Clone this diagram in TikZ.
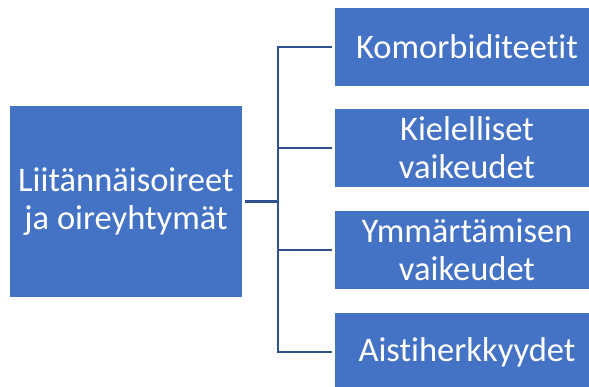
\documentclass[tikz,border=0pt]{standalone}
\usepackage{fontspec}
\setmainfont{Carlito}[Ligatures={NoCommon}]
\definecolor{boxblue}{RGB}{68,114,196}
\definecolor{linkblue}{RGB}{47,82,143}
\begin{document}
\begin{tikzpicture}[x=1pt,y=-1pt,
  box/.style={fill=boxblue, draw=none, text=white, align=center,
    font=\fontsize{34.5}{38}\selectfont, inner sep=0pt},
  link/.style={draw=linkblue, line width=2.5pt}]
\clip (0,0) rectangle (589,386);
\fill[white] (0,0) rectangle (589,386);
% root box
\node[box, minimum width=232pt, minimum height=191pt] (root) at (126,201.5)
  {Liitännäisoireet\\ja oireyhtymät};
% child boxes
\node[box, minimum width=264pt, minimum height=78pt] (c1) at (467,47) {Komorbiditeetit};
\node[box, minimum width=264pt, minimum height=78pt] (c2) at (467,148) {Kielelliset\\vaikeudet};
\node[box, minimum width=264pt, minimum height=78pt] (c3) at (467,250) {Ymmärtämisen\\vaikeudet};
\node[box, minimum width=264pt, minimum height=78pt] (c4) at (467,352) {Aistiherkkyydet};
% bracket connector
\coordinate (spine) at (278,201.5);
\draw[link] ([xshift=3pt]root.east) -- (spine);
\draw[link, line cap=rect] (spine |- c1.west) -- (spine |- c4.west);
\foreach \c in {c1,c2,c3,c4}
  \draw[link] (spine |- \c.west) -- ([xshift=-3pt]\c.west);
\end{tikzpicture}
\end{document}
